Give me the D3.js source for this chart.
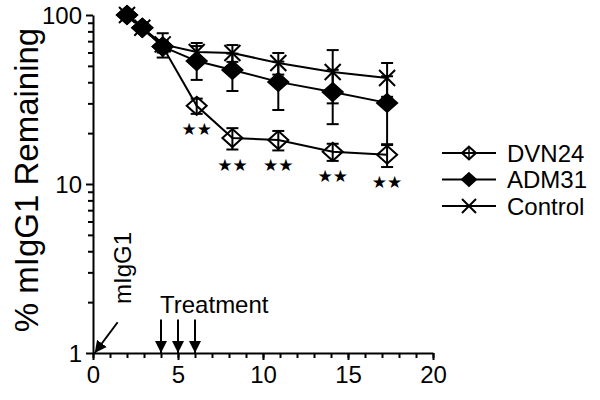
<!DOCTYPE html>
<html>
  <head>
    <meta charset="utf-8">
    <style type="text/css">
      body { margin: 0; background: #fff; }
      svg text { font-family: "Liberation Sans", Arial, sans-serif; fill: #000; }
      .axis path, .axis line { stroke: #000; stroke-width: 2px; }
      .axis text { font-size: 24px; font-family: "Liberation Sans", Arial, sans-serif; }
    </style>
  </head>
  <body>
    <script src="https://d3js.org/d3.v7.min.js"></script>
    <script>
      // data
      var days    = [2, 2.9, 4.1, 6.1, 8.2, 10.9, 14.1, 17.3];
      var dvn     = [100, 84, 65, 29, 18.7, 18.2, 15.5, 14.9];
      var dvnErr  = [0, 3, 4, 3, 2.7, 2.4, 1.8, 2.3];
      var adm     = [100, 84, 65, 53.4, 47.3, 40.2, 35.0, 30.2];
      var admErr  = [0, 4, 5, 12.1, 11.8, 12.8, 12.4, 13.2];
      var ctrl    = [100, 84, 67, 60.4, 59.6, 52, 46, 42.4];
      var ctrlErr = [0, 4, 11, 7.9, 6.8, 7.6, 16, 9.6];
      var starIdx = [3, 4, 5, 6, 7];          // points marked **
      var treatDays = [4, 5, 6];
      var seriesNames = ["DVN24", "ADM31", "Control"];
      var xTicks = [0, 5, 10, 15, 20];
      var yTicks = [1, 10, 100];

      var width = 600, height = 400;

      var svg = d3.select("body").append("svg")
          .attr("width", width)
          .attr("height", height);

      var x = d3.scaleLinear().domain([0, 20]).range([93, 433]);
      var y = d3.scaleLog().domain([1, 100]).range([353, 15]);

      // axes
      svg.append("g")
          .attr("class", "axis")
          .attr("transform", "translate(93,0)")
          .call(d3.axisLeft(y).tickValues(yTicks).tickFormat(d3.format("d")).tickSize(7).tickSizeOuter(0))
          .selectAll("text").attr("dx", "-1").attr("dy", "0.36em");

      var minorY = [];
      [1, 10].forEach(function(d) { for (var k = 2; k < 10; k++) minorY.push(d * k); });
      svg.append("g")
          .attr("class", "axis")
          .attr("transform", "translate(93,0)")
          .call(d3.axisLeft(y).tickValues(minorY).tickFormat("").tickSize(5).tickSizeOuter(0))
          .select(".domain").remove();

      svg.append("g")
          .attr("class", "axis")
          .attr("transform", "translate(0,353)")
          .call(d3.axisBottom(x).tickValues(xTicks).tickSize(7).tickSizeOuter(0).tickPadding(6));

      svg.append("g")
          .attr("class", "axis")
          .attr("transform", "translate(0,353)")
          .call(d3.axisBottom(x).tickValues(d3.range(0, 21)).tickFormat("").tickSize(5).tickSizeOuter(0))
          .select(".domain").remove();

      svg.append("text")
          .attr("transform", "translate(38,180) rotate(-90)")
          .attr("text-anchor", "middle")
          .style("font-size", "33px")
          .text("% mIgG1 Remaining");

      // arrow markers
      svg.append("defs").append("marker")
          .attr("id", "head")
          .attr("viewBox", "0 0 10 10")
          .attr("refX", 10).attr("refY", 5)
          .attr("markerUnits", "userSpaceOnUse")
          .attr("markerWidth", 12).attr("markerHeight", 13)
          .attr("orient", "auto")
        .append("path")
          .attr("d", "M0,0L10,5L0,10Z")
          .attr("fill", "#000");

      // mIgG1 injection arrow
      svg.append("line")
          .attr("x1", x(1.45)).attr("y1", y(1.52))
          .attr("x2", x(0.1)).attr("y2", y(1.0))
          .attr("stroke", "#000").attr("stroke-width", 2)
          .attr("marker-end", "url(#head)");
      svg.append("text")
          .attr("transform", "translate(" + x(2.25) + "," + y(1.95) + ") rotate(-90)")
          .style("font-size", "24px")
          .text("mIgG1");

      // treatment arrows
      svg.selectAll(".treat")
          .data(treatDays)
        .enter().append("line")
          .attr("x1", function(d) { return x(d); })
          .attr("x2", function(d) { return x(d); })
          .attr("y1", y(1.58))
          .attr("y2", y(1))
          .attr("stroke", "#000").attr("stroke-width", 2)
          .attr("marker-end", "url(#head)");
      svg.append("text")
          .attr("x", x(4) - 1)
          .attr("y", y(1.73))
          .style("font-size", "24px")
          .text("Treatment");

      var series = [
        { name: seriesNames[0], v: dvn, e: dvnErr, kind: "open" },
        { name: seriesNames[1], v: adm, e: admErr, kind: "fill" },
        { name: seriesNames[2], v: ctrl, e: ctrlErr, kind: "x" }
      ];

      var line = d3.line()
          .x(function(d) { return x(d[0]); })
          .y(function(d) { return y(d[1]); });

      // connecting lines
      series.forEach(function(s) {
        svg.append("path")
            .datum(days.map(function(d, i) { return [d, s.v[i]]; }))
            .attr("d", line)
            .attr("fill", "none")
            .attr("stroke", "#000")
            .attr("stroke-width", 2);
      });

      // error bars
      var cap = 6;
      series.forEach(function(s) {
        var g = svg.append("g").attr("stroke", "#000").attr("stroke-width", 2);
        days.forEach(function(d, i) {
          if (!s.e[i]) return;
          var hi = y(s.v[i] + s.e[i]), lo = y(s.v[i] - s.e[i]), cx = x(d);
          g.append("line").attr("x1", cx).attr("x2", cx).attr("y1", hi).attr("y2", lo);
          g.append("line").attr("x1", cx - cap).attr("x2", cx + cap).attr("y1", hi).attr("y2", hi);
          g.append("line").attr("x1", cx - cap).attr("x2", cx + cap).attr("y1", lo).attr("y2", lo);
        });
      });

      function marker(g, kind, cx, cy, r) {
        if (kind === "x") {
          g.append("path")
              .attr("d", "M" + (cx - r) + "," + (cy - r) + "L" + (cx + r) + "," + (cy + r) +
                         "M" + (cx - r) + "," + (cy + r) + "L" + (cx + r) + "," + (cy - r))
              .attr("stroke", "#000").attr("stroke-width", 2).attr("fill", "none");
        } else {
          var h = r * 0.9;
          g.append("path")
              .attr("d", "M" + cx + "," + (cy - h) + "L" + (cx + r) + "," + cy + "L" + cx + "," + (cy + h) +
                         "L" + (cx - r) + "," + cy + "Z")
              .attr("stroke", "#000").attr("stroke-width", 2)
              .attr("fill", kind === "fill" ? "#000" : "none");
        }
      }

      // markers: control first, then ADM, then DVN on top
      [series[2], series[1], series[0]].forEach(function(s) {
        var g = svg.append("g");
        days.forEach(function(d, i) {
          marker(g, s.kind, x(d), y(s.v[i]), s.kind === "x" ? 8 : 10);
        });
      });

      // significance stars under DVN24
      svg.selectAll(".star")
          .data(starIdx)
        .enter().append("text")
          .attr("x", function(i) { return x(days[i]); })
          .attr("y", function(i) { return y(dvn[i] - dvnErr[i]) + 21; })
          .attr("text-anchor", "middle")
          .style("font-family", "DejaVu Sans")
          .style("font-size", "17px")
          .style("fill", "#000")
          .text("★★");

      // legend
      var leg = svg.append("g");
      series.forEach(function(s, i) {
        var ly = 153 + i * 26.5;
        leg.append("line")
            .attr("x1", 442).attr("x2", 496).attr("y1", ly).attr("y2", ly)
            .attr("stroke", "#000").attr("stroke-width", 2);
        if (s.kind === "open") {
          leg.append("line").attr("x1", 469).attr("x2", 469).attr("y1", ly - 6).attr("y2", ly + 6)
              .attr("stroke", "#000").attr("stroke-width", 1.5);
        }
        marker(leg, s.kind, 469, ly, 7);
        leg.append("text")
            .attr("x", 507).attr("y", ly)
            .attr("dy", "0.36em")
            .style("font-size", "24px")
            .text(s.name);
      });
    </script>
  </body>
</html>
